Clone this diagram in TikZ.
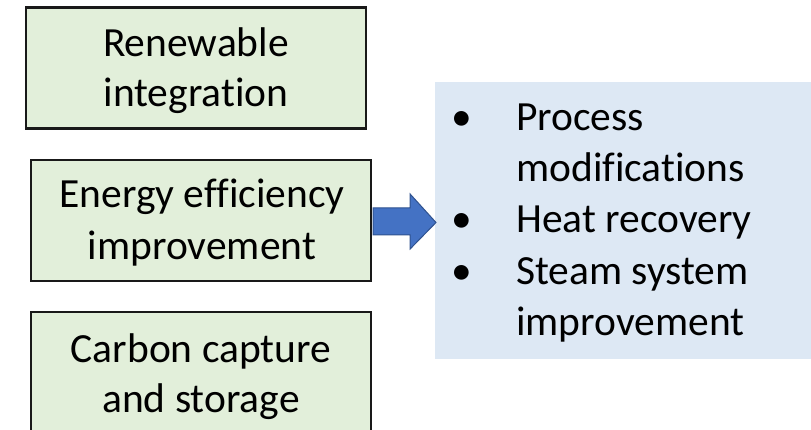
\documentclass[tikz,border=0pt]{standalone}
\usepackage{fontspec}
\setmainfont{Carlito}[Ligatures={NoCommon,NoRare},Contextuals={NoAlternate}]
\usetikzlibrary{calc}
\definecolor{boxgreen}{HTML}{E2EFDA}
\definecolor{boxblue}{HTML}{DDE8F4}
\definecolor{arrowfill}{HTML}{4472C4}
\definecolor{arrowline}{HTML}{2F528F}
\tikzset{
  greenbox/.style={draw=black!90, line width=2.2pt, fill=boxgreen, inner sep=0pt},
  bluebox/.style={draw=none, fill=boxblue, inner sep=0pt},
  txt/.style={inner sep=0pt, anchor=base, font=\fontsize{41.5}{51}\selectfont},
  txtl/.style={txt, anchor=base west},
  arrowshape/.style={fill=arrowfill, draw=arrowline, line width=1pt, line join=miter}
}
\begin{document}
\begin{tikzpicture}[x=1pt,y=-1pt]
\useasboundingbox (0,0) rectangle (811,430);
\clip (0,0) rectangle (811,430);
% left boxes
\node[greenbox, minimum width=340pt, minimum height=121pt] (b1) at (196,68) {};
\node[greenbox, minimum width=340pt, minimum height=121pt] (b2) at (201,220.5) {};
\node[greenbox, minimum width=340pt, minimum height=140pt] (b3) at (201,382) {};
% blue box
\node[bluebox, minimum width=390pt, minimum height=277pt, anchor=north west] (bl) at (435,82) {};
% texts of left boxes
\node[txt] (t1a) at (196,57) {Renewable};
\node[txt] (t1b) at (196,107) {integration};
\node[txt] (t2a) at (202,208) {Energy efficiency};
\node[txt] (t2b) at (202,260) {improvement};
\node[txt] (t3a) at (201,362) {Carbon capture};
\node[txt] (t3b) at (201,412) {and storage};
% bullet list
\node[txt] (u1) at (462,131) {•};
\node[txtl] (l1a) at (516,131) {Process};
\node[txtl] (l1b) at (516,182) {modifications};
\node[txt] (u2) at (462,233) {•};
\node[txtl] (l2) at (516,233) {Heat recovery};
\node[txt] (u3) at (462,284) {•};
\node[txtl] (l3a) at (516,284) {Steam system};
\node[txtl] (l3b) at (516,335) {improvement};
% block arrow from b2 to blue box
\draw[arrowshape] ($(b2.east)+(1,-12.5)$) -- ($(b2.east)+(38,-12.5)$) -- ($(b2.east)+(38,-26.5)$)
  -- ($(bl.west |- b2.east)+(1,2)$) -- ($(b2.east)+(38,28.5)$) -- ($(b2.east)+(38,14.5)$)
  -- ($(b2.east)+(1,14.5)$) -- cycle;
\end{tikzpicture}
\end{document}
